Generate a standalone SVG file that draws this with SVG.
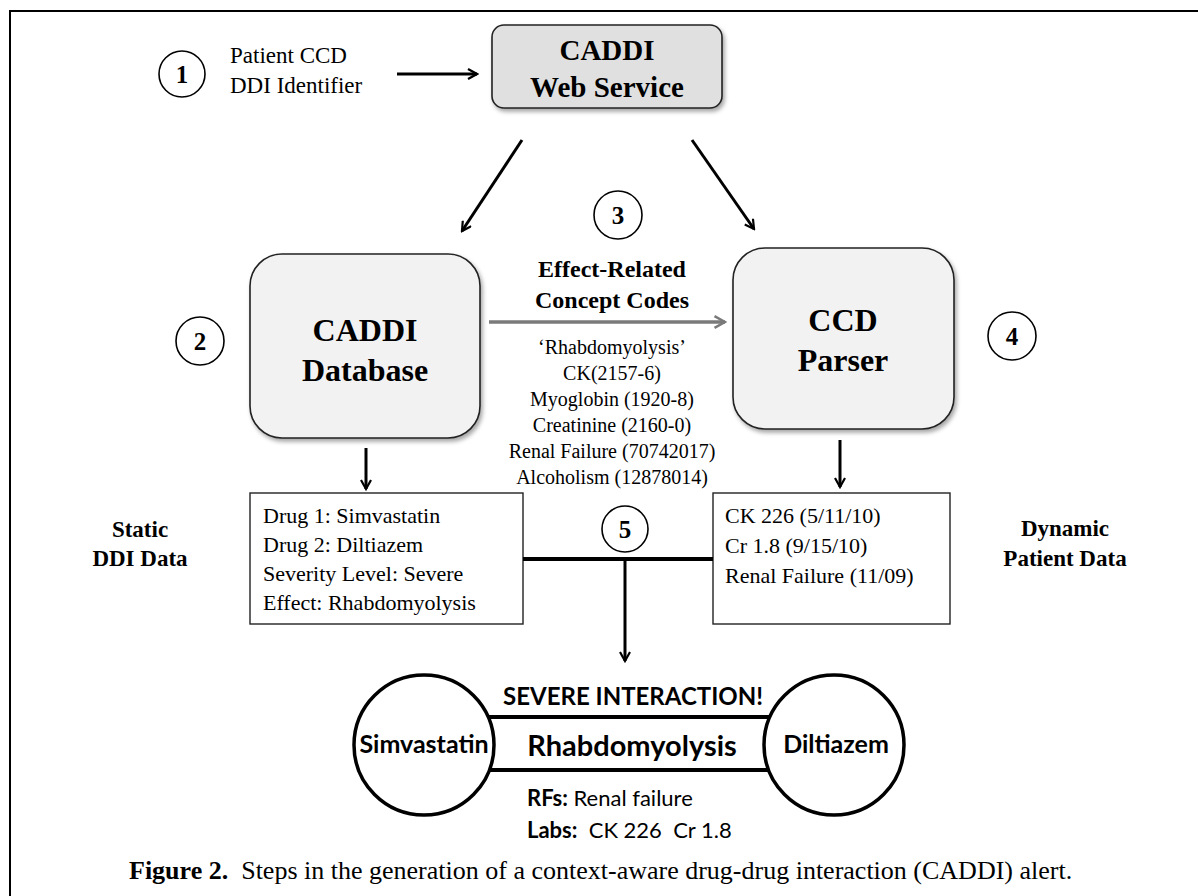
<svg xmlns="http://www.w3.org/2000/svg" width="1198" height="896" viewBox="0 0 1198 896">
<style>
.serif{font-family:"Liberation Serif","Times New Roman",serif;fill:#000}
.sans{font-family:Lato,"Open Sans","Liberation Sans",sans-serif;fill:#000}
.b{font-weight:bold}
.step{fill:#fff;stroke:#000;stroke-width:1.6}
.box{stroke:#222;stroke-width:1.6}
.data{fill:#fff;stroke:#222;stroke-width:1.4}
.conn{stroke:#000;stroke-width:3;fill:none}
</style>
<defs>
<marker id="ahk" viewBox="0 0 12 12" refX="10" refY="6" markerWidth="4" markerHeight="4" orient="auto" markerUnits="strokeWidth">
<path d="M1,1 L10,6 L1,11" fill="none" stroke="#000" stroke-width="2.2"/>
</marker>
<marker id="ahg" viewBox="0 0 12 12" refX="10" refY="6" markerWidth="4" markerHeight="4" orient="auto" markerUnits="strokeWidth">
<path d="M1,1 L10,6 L1,11" fill="none" stroke="#7a7a7a" stroke-width="2.2"/>
</marker>
<filter id="sh" x="-10%" y="-10%" width="130%" height="130%">
<feDropShadow dx="2" dy="3" stdDeviation="2" flood-color="#000" flood-opacity="0.35"/>
</filter>
</defs>
<rect width="1198" height="896" fill="#fff"/>
<path d="M10,896 V11 H1198" fill="none" stroke="#000" stroke-width="2"/>

<g id="step1">
<ellipse class="step" cx="182" cy="74" rx="23" ry="23"/>
<text class="serif b" x="182" y="83" font-size="25" text-anchor="middle">1</text>
</g>
<g id="input">
<text class="serif" x="230" y="63" font-size="23">Patient CCD</text>
<text class="serif" x="230" y="93" font-size="23">DDI Identifier</text>
</g>
<g id="webservice">
<rect class="box" x="492" y="25" width="230" height="83" rx="12" fill="#e0e0e0" filter="url(#sh)"/>
<text class="serif b" x="607" y="60" font-size="29" text-anchor="middle">CADDI</text>
<text class="serif b" x="607" y="97" font-size="29" text-anchor="middle">Web Service</text>
</g>
<g id="step3">
<ellipse class="step" cx="618" cy="215" rx="24" ry="24"/>
<text class="serif b" x="618" y="224" font-size="25" text-anchor="middle">3</text>
</g>
<g id="codes">
<text class="serif b" x="612" y="277" font-size="24" text-anchor="middle">Effect-Related</text>
<text class="serif b" x="612" y="308" font-size="24" text-anchor="middle">Concept Codes</text>
<text class="serif" x="612" y="354" font-size="20" text-anchor="middle">‘Rhabdomyolysis’</text>
<text class="serif" x="612" y="380" font-size="20" text-anchor="middle">CK(2157-6)</text>
<text class="serif" x="612" y="406" font-size="20" text-anchor="middle">Myoglobin (1920-8)</text>
<text class="serif" x="612" y="432" font-size="20" text-anchor="middle">Creatinine (2160-0)</text>
<text class="serif" x="612" y="458" font-size="20" text-anchor="middle">Renal Failure (70742017)</text>
<text class="serif" x="612" y="484" font-size="20" text-anchor="middle">Alcoholism (12878014)</text>
</g>
<g id="step2">
<ellipse class="step" cx="200" cy="341" rx="24" ry="24"/>
<text class="serif b" x="200" y="350" font-size="25" text-anchor="middle">2</text>
</g>
<g id="database">
<rect class="box" x="250" y="254" width="230" height="184" rx="32" fill="#f2f2f2" filter="url(#sh)"/>
<text class="serif b" x="365" y="341" font-size="32" text-anchor="middle">CADDI</text>
<text class="serif b" x="365" y="381" font-size="32" text-anchor="middle">Database</text>
</g>
<g id="parser">
<rect class="box" x="733" y="248" width="221" height="181" rx="32" fill="#f2f2f2" filter="url(#sh)"/>
<text class="serif b" x="843" y="331" font-size="32" text-anchor="middle">CCD</text>
<text class="serif b" x="843" y="371" font-size="32" text-anchor="middle">Parser</text>
</g>
<g id="step4">
<ellipse class="step" cx="1012" cy="336" rx="24" ry="24"/>
<text class="serif b" x="1012" y="345" font-size="25" text-anchor="middle">4</text>
</g>
<g id="static-label">
<text class="serif b" x="140" y="537" font-size="23" text-anchor="middle">Static</text>
<text class="serif b" x="140" y="566" font-size="23" text-anchor="middle">DDI Data</text>
</g>
<g id="static-data">
<rect class="data" x="250" y="493" width="273" height="131"/>
<text class="serif" x="263" y="523" font-size="22">Drug 1: Simvastatin</text>
<text class="serif" x="263" y="552" font-size="22">Drug 2: Diltiazem</text>
<text class="serif" x="263" y="581" font-size="22">Severity Level: Severe</text>
<text class="serif" x="263" y="610" font-size="22">Effect: Rhabdomyolysis</text>
</g>
<g id="dynamic-data">
<rect class="data" x="713" y="493" width="237" height="131"/>
<text class="serif" x="725" y="523" font-size="22">CK 226 (5/11/10)</text>
<text class="serif" x="725" y="553" font-size="22">Cr 1.8 (9/15/10)</text>
<text class="serif" x="725" y="583" font-size="22">Renal Failure (11/09)</text>
</g>
<g id="dynamic-label">
<text class="serif b" x="1065" y="536" font-size="23" text-anchor="middle">Dynamic</text>
<text class="serif b" x="1065" y="566" font-size="23" text-anchor="middle">Patient Data</text>
</g>
<g id="step5">
<ellipse class="step" cx="625" cy="529" rx="23" ry="23"/>
<text class="serif b" x="625" y="538" font-size="25" text-anchor="middle">5</text>
</g>
<g id="alert">
<line x1="480" y1="717" x2="780" y2="717" stroke="#000" stroke-width="4"/>
<line x1="480" y1="770" x2="780" y2="770" stroke="#000" stroke-width="4"/>
<circle cx="424" cy="745" r="70" fill="#fff" stroke="#000" stroke-width="3.5"/>
<circle cx="834" cy="745" r="70" fill="#fff" stroke="#000" stroke-width="3.5"/>
<text class="sans b" x="633" y="705" font-size="24" text-anchor="middle">SEVERE INTERACTION!</text>
<text class="sans b" x="632" y="756" font-size="29" text-anchor="middle">Rhabdomyolysis</text>
<text class="sans b" x="424" y="753" font-size="25" text-anchor="middle">Simvastatin</text>
<text class="sans b" x="836" y="753" font-size="25" text-anchor="middle">Diltiazem</text>
<text class="sans" x="527" y="806" font-size="22"><tspan font-weight="bold">RFs:</tspan> Renal failure</text>
<text class="sans" x="527" y="838" font-size="22" xml:space="preserve"><tspan font-weight="bold">Labs:</tspan>  CK 226  Cr 1.8</text>
</g>
<g id="caption">
<text class="serif" x="129" y="879" font-size="26" xml:space="preserve"><tspan font-weight="bold">Figure 2.</tspan>  Steps in the generation of a context-aware drug-drug interaction (CADDI) alert.</text>
</g>
<g id="connectors">
<line class="conn" x1="397" y1="74" x2="477" y2="74" marker-end="url(#ahk)"/>
<line class="conn" x1="522" y1="140" x2="462" y2="231" marker-end="url(#ahk)"/>
<line class="conn" x1="692" y1="140" x2="754" y2="229" marker-end="url(#ahk)"/>
<line x1="489" y1="322" x2="725" y2="322" stroke="#7a7a7a" stroke-width="3.5" marker-end="url(#ahg)"/>
<line class="conn" x1="366" y1="448" x2="366" y2="489" marker-end="url(#ahk)"/>
<line class="conn" x1="840" y1="440" x2="840" y2="487" marker-end="url(#ahk)"/>
<line x1="523" y1="559" x2="713" y2="559" stroke="#000" stroke-width="4"/>
<line class="conn" x1="625" y1="559" x2="625" y2="661" marker-end="url(#ahk)"/>
</g>
</svg>
